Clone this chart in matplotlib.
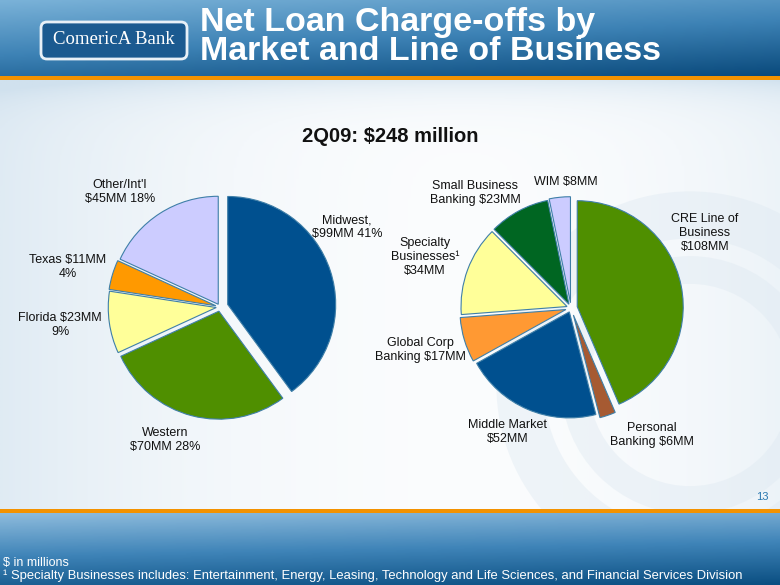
import matplotlib.pyplot as plt
import numpy as np
from matplotlib.patches import FancyBboxPatch, Rectangle, Circle
from matplotlib.colors import LinearSegmentedColormap

plt.rcParams['font.family'] = ['Liberation Sans', 'DejaVu Sans']

# --- данные ---
market_names = ['Midwest', 'Western', 'Florida', 'Texas', 'Other/Int\'l']
market_values = [99, 70, 23, 11, 45]
market_labels = ['Midwest,\n$99MM 41%', 'Western\n$70MM 28%', 'Florida $23MM\n9%',
                 'Texas $11MM\n4%', 'Other/Int\'l\n$45MM 18%']

lob_names = ['CRE Line of Business', 'Personal Banking', 'Middle Market',
             'Global Corp Banking', 'Specialty Businesses', 'Small Business Banking', 'WIM']
lob_values = [108, 6, 52, 17, 34, 23, 8]
lob_labels = ['CRE Line of\nBusiness\n$108MM', 'Personal\nBanking $6MM', 'Middle Market\n$52MM',
              'Global Corp\nBanking $17MM', 'Specialty\nBusinesses¹\n$34MM',
              'Small Business\nBanking $23MM', 'WIM $8MM']

# --- оформление ---
market_colors = ['#00508f', '#4f8f00', '#ffff99', '#ff9900', '#ccccff']
market_explode = [0.075, 0.04, 0.035, 0.04, 0.03]
market_label_pos = [(347, 227), (165, 440), (60, 325), (68, 267), (120, 192)]

lob_colors = ['#4f8f00', '#a65a32', '#00508f', '#ff9933', '#ffff99', '#006622', '#ccccff']
lob_explode = [0.06, 0.07, 0.04, 0.05, 0.04, 0.04, 0.05]
lob_label_pos = [(705, 233), (652, 435), (508, 432), (420, 350), (425, 257), (475, 193), (566, 182)]

W, H = 780, 585


def Y(y):
    return H - y


fig = plt.figure(figsize=(7.8, 5.85), dpi=100)
ax = fig.add_axes([0, 0, 1, 1])

# фон
gx = np.linspace(0, 1, 300)
gy = np.linspace(0, 1, 200)
GX, GY = np.meshgrid(gx, gy)
bg = 0.6 * (1 - GX) ** 3 + 0.35 * GX ** 4 + 0.5 * np.exp(-GY * 25)
bg_cmap = LinearSegmentedColormap.from_list('bg', ['#ffffff', '#d0e1ee'])
ax.imshow(bg, extent=[0, W, Y(510), Y(80)], cmap=bg_cmap, vmin=0, vmax=0.9,
          aspect='auto', zorder=0, origin='upper')

# водяной знак
for r, lw in [(170, 34), (115, 20)]:
    ax.add_patch(Circle((690, Y(385)), r, fill=False, edgecolor='#dde8f1', lw=lw,
                        alpha=0.4, zorder=0.5))

# шапка
hdr = 0.75 * np.linspace(0, 1, 100)[:, None] + 0.35 * np.linspace(0, 1, 200)[None, :]
hdr_cmap = LinearSegmentedColormap.from_list('hdr', ['#7ab2d8', '#3d82b5', '#0a4a7c'])
ax.imshow(hdr, extent=[0, W, Y(76), Y(0)], cmap=hdr_cmap, vmin=0, vmax=1.1, aspect='auto', zorder=1)
ax.add_patch(Rectangle((0, Y(80)), W, 4, color='#f39200', zorder=2, lw=0))

# логотип
ax.add_patch(FancyBboxPatch((41, Y(59)), 146, 37, boxstyle='round,pad=0,rounding_size=6',
                            facecolor='#1b5a90', edgecolor='#e8f0f7', lw=2, zorder=3))
ax.text(114, Y(40), 'ComericA Bank', family='Liberation Serif', color='white',
        fontsize=13.5, ha='center', va='center', zorder=4)

ax.text(200, Y(37), 'Net Loan Charge-offs by\nMarket and Line of Business', color='white',
        fontsize=24.5, fontweight='bold', ha='left', va='center', linespacing=0.9, zorder=4)

# подвал
ax.add_patch(Rectangle((0, Y(513)), W, 4, color='#f39200', zorder=2, lw=0))
foot = np.linspace(0, 1, 50)[:, None] + 0.2 * np.linspace(0, 1, 200)[None, :]
foot_cmap = LinearSegmentedColormap.from_list('foot', ['#8dbbdc', '#3f84b8', '#0b4f82'])
ax.imshow(foot, extent=[0, W, 0, Y(513)], cmap=foot_cmap, vmin=0, vmax=1.2, aspect='auto', zorder=1)
ax.text(762, Y(497), '13', color='#2a78b0', fontsize=8, ha='center', va='center', zorder=4)
ax.text(3, Y(563), '$ in millions', color='white', fontsize=9, ha='left', va='center', zorder=4)
ax.text(3, Y(576), '¹ Specialty Businesses includes: Entertainment, Energy, Leasing, '
        'Technology and Life Sciences, and Financial Services Division',
        color='white', fontsize=9.4, ha='left', va='center', zorder=4)

ax.text(390, Y(137), '2Q09: $248 million', fontsize=14.5, fontweight='bold',
        ha='center', va='center', color='#111111', zorder=4)

# круговые диаграммы
wedge_style = dict(edgecolor='#3f7fa8', linewidth=0.8)
r1, r2 = 108, 106
w1, _ = ax.pie(market_values, colors=market_colors, explode=[e * r1 for e in market_explode],
               startangle=90, counterclock=False, center=(220, Y(307)), radius=r1,
               wedgeprops=wedge_style, frame=True)
w2, _ = ax.pie(lob_values, colors=lob_colors, explode=[e * r2 for e in lob_explode],
               startangle=90, counterclock=False, center=(571, Y(308)), radius=r2,
               wedgeprops=wedge_style, frame=True)
for w in list(w1) + list(w2):
    w.set_zorder(3)

for lbl, (x, y) in zip(market_labels, market_label_pos):
    ax.text(x, Y(y), lbl, fontsize=9, ha='center', va='center', color='#111111', zorder=4)
for lbl, (x, y) in zip(lob_labels, lob_label_pos):
    ax.text(x, Y(y), lbl, fontsize=9, ha='center', va='center', color='#111111', zorder=4)

ax.set_xlim(0, W)
ax.set_ylim(0, H)
ax.set_aspect('auto')
ax.axis('off')

fig.savefig('out.png', dpi=100)
